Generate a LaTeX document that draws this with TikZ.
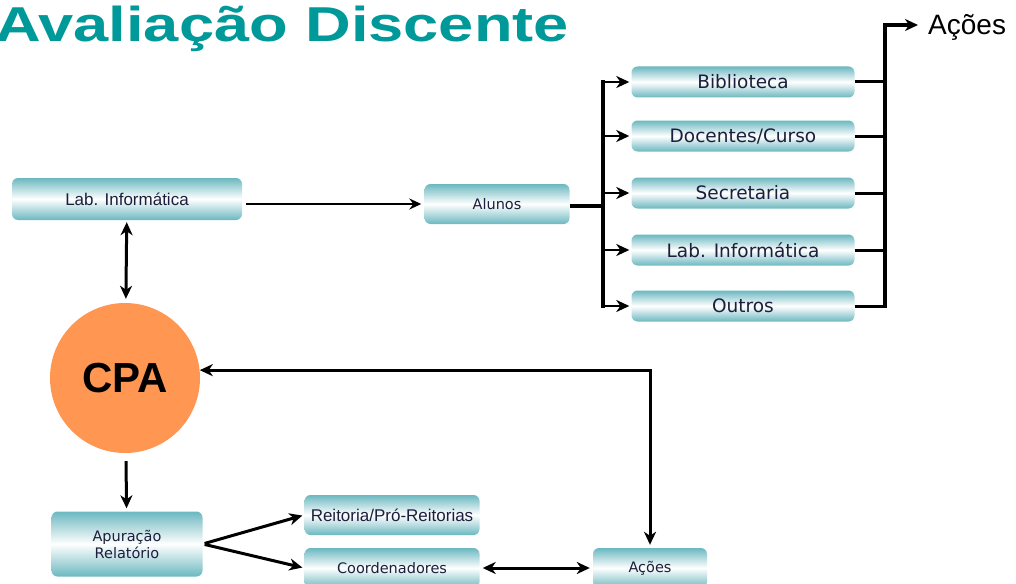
\documentclass[tikz,border=0pt]{standalone}
\usepackage{fontspec}
\setmainfont{Liberation Sans}
\newfontfamily\verafont{DejaVu Sans}
\usetikzlibrary{arrows.meta,positioning,shadings}

\definecolor{titleteal}{RGB}{0,153,153}
\definecolor{boxteal}{RGB}{108,184,192}
\definecolor{boxtext}{RGB}{30,30,60}
\definecolor{cpaorange}{RGB}{255,150,82}

\tikzset{
  box/.style={rounded corners=6pt, top color=boxteal, bottom color=boxteal,
    middle color=white, inner sep=0pt, text=boxtext},
  bigbox/.style={box, minimum width=223pt, minimum height=31pt,
    font=\verafont\fontsize{18.5}{20}\selectfont},
  smallbox/.style={box, minimum height=40pt,
    font=\verafont\fontsize{14.5}{17}\selectfont},
  line/.style={line width=3pt},
  tip/.style={Stealth[length=13pt,width=12pt,inset=4pt]},
  link/.style={line, -{Stealth[length=13pt,width=12pt,inset=4pt]}},
  dlink/.style={line, {Stealth[length=13pt,width=12pt,inset=4pt]}-{Stealth[length=13pt,width=12pt,inset=4pt]}},
  thinlink/.style={line width=2pt, -{Stealth[length=12pt,width=11pt,inset=4pt]}}
}

\begin{document}
\begin{tikzpicture}[x=1pt,y=-1pt]
  \useasboundingbox (0,0) rectangle (1016,583);

  \node[anchor=base west, inner sep=0pt, text=titleteal,
    font=\bfseries\fontsize{49}{52}\selectfont] (title) at (-5,42)
    {\scalebox{1.29}[1]{Avaliação Discente}};

  \node[smallbox, minimum width=230pt, minimum height=42pt,
    font=\fontsize{17}{19}\selectfont] (labL) at (127,199) {Lab. Informática};
  \node[smallbox, minimum width=145pt] (alunos) at (497,204) {Alunos};

  \node[bigbox] (bib) at (743,82) {Biblioteca};
  \node[bigbox] (doc) at (743,136) {Docentes/Curso};
  \node[bigbox] (sec) at (743,193) {Secretaria};
  \node[bigbox] (lab) at (743,250) {Lab. Informática};
  \node[bigbox] (out) at (743,306) {Outros};

  \node[anchor=base west, inner sep=0pt, font=\fontsize{28}{30}\selectfont]
    (fim) at (928,35) {Ações};

  \node[circle, fill=cpaorange, minimum size=150pt, inner sep=0pt,
    font=\bfseries\fontsize{42}{44}\selectfont] (cpa) at (125,378) {CPA};

  \node[smallbox, minimum width=151pt, minimum height=65pt, align=center]
    (apur) at (127,544) {Apuração\\Relatório};
  \node[smallbox, minimum width=175pt, font=\fontsize{17}{19}\selectfont]
    (reit) at (392,515) {Reitoria/Pró-Reitorias};
  \node[smallbox, minimum width=175pt] (coord) at (392,568) {Coordenadores};
  \node[smallbox, minimum width=114pt] (acoes) at (650,568) {Ações};

  \coordinate (split) at (603,206);
  \coordinate (merge) at (885,25);

  \draw[thinlink, shorten <=4pt, shorten >=3pt] (labL.east |- alunos.west) -- (alunos.west);
  \draw[line, line width=4pt] (alunos.east |- split) -- (split);
  \draw[line, line width=3.5pt] ([yshift=1.5pt]split |- bib.west) -- ([yshift=-1.5pt]split |- out.west);
  \foreach \n in {bib,doc,sec,lab,out}
    \draw[link, line width=2.5pt, shorten >=2pt] (split |- \n.west) -- (\n.west);
  \foreach \n in {bib,doc,sec,lab,out}
    \draw[line] (\n.east) -- ([xshift=1.75pt]merge |- \n.east);
  \draw[link, line width=3.5pt, line join=miter, shorten >=10pt]
    ([yshift=-1.5pt]merge |- out.east) -- (merge) -- (merge -| fim.west);

  \draw[dlink, shorten <=2pt, shorten >=4pt] (labL) -- (cpa);
  \draw[link, shorten <=8pt, shorten >=3pt] (cpa) -- (apur);
  \draw[link, shorten <=2pt, shorten >=2pt] (apur.east) -- (reit.west);
  \draw[link, shorten <=2pt, shorten >=2pt] (apur.east) -- (coord.west);
  \draw[dlink, shorten <=3pt, shorten >=3pt] (coord) -- (acoes);
  \draw[dlink, line join=miter, shorten >=3pt] (cpa.6) -| (acoes.north);
\end{tikzpicture}
\end{document}
